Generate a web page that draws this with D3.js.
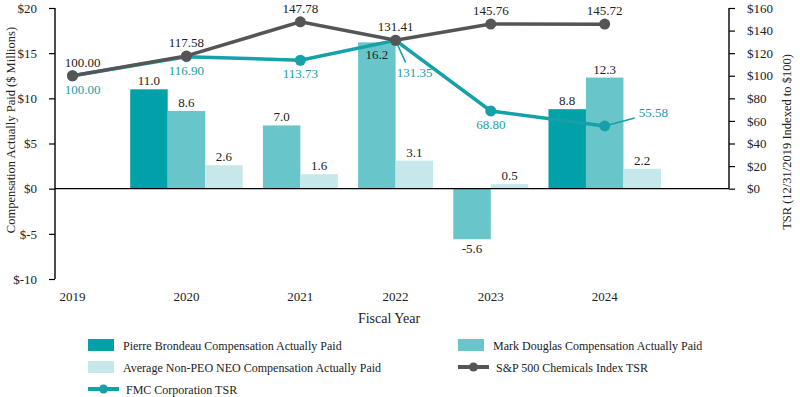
<!DOCTYPE html>
<html>
<head>
<meta charset="utf-8">
<script src="https://cdn.jsdelivr.net/npm/d3@7"></script>
<style>
  body { margin: 0; background: #fff; }
  svg { display: block; font-family: "Liberation Serif", "DejaVu Serif", serif; }
</style>
</head>
<body>
<div id="chart"></div>
<script>
// values
const years = ['2019', '2020', '2021', '2022', '2023', '2024']
const pierreCAP = [null, 11.0, null, null, null, 8.8]
const douglasCAP = [null, 8.6, 7.0, 16.2, -5.6, 12.3]
const neoAvgCAP = [null, 2.6, 1.6, 3.1, 0.5, 2.2]
const fmcTSR = [100.00, 116.90, 113.73, 131.35, 68.80, 55.58]
const spTSR = [100.00, 117.58, 147.78, 131.41, 145.76, 145.72]
const capTicks = [-10, -5, 0, 5, 10, 15, 20]
const tsrTicks = [0, 20, 40, 60, 80, 100, 120, 140, 160]

const barSeries = [
  {name: 'Pierre Brondeau Compensation Actually Paid', values: pierreCAP, color: '#00a1a9'},
  {name: 'Mark Douglas Compensation Actually Paid', values: douglasCAP, color: '#68c5c9'},
  {name: 'Average Non-PEO NEO Compensation Actually Paid', values: neoAvgCAP, color: '#c6e8ea'}
]
const spSeries = {name: 'S&P 500 Chemicals Index TSR', values: spTSR, color: '#555555'}
const fmcSeries = {name: 'FMC Corporation TSR', values: fmcTSR, color: '#16a0a8'}

const W = 800, H = 397
const svg = d3.select('#chart').append('svg')
    .attr('width', W)
    .attr('height', H)

// each year takes as many bar slots as it has bars (at least two), plus a gap
const gap = 0.54
const groups = years.map((y, i) => ({
  year: y,
  bars: barSeries.filter(s => s.values[i] != null).map(s => ({s, v: s.values[i]}))
}))
let cursor = 0
groups.forEach((g, i) => {
  const w = Math.max(2, g.bars.length)
  if (i > 0) cursor += gap
  g.center = cursor + w / 2
  cursor += w
})

const x = d3.scaleLinear()
    .domain([groups[0].center, groups[groups.length - 1].center])
    .range([72.5, 604.7])
const unit = x(1) - x(0)

const yL = d3.scaleLinear().domain([-10, 20]).range([279, 8])
const yR = d3.scaleLinear().domain([-80, 160]).range([279, 8])

const left = 55, right = 729

// left axis
const gL = svg.append('g')
    .attr('transform', `translate(${left},0)`)
    .call(d3.axisLeft(yL).tickValues(capTicks).tickSize(6).tickPadding(12)
      .tickFormat(d => '$' + d))
gL.select('.domain').attr('stroke', '#000').attr('stroke-width', 1.4)
  .attr('d', `M0,${yL(-10)}V${yL(20)}`)

// right axis
const gR = svg.append('g')
    .attr('transform', `translate(${right},0)`)
    .call(d3.axisRight(yR).tickValues(tsrTicks).tickSize(6).tickPadding(12)
      .tickFormat(d => '$' + d))
gR.select('.domain').attr('stroke', '#000').attr('stroke-width', 1.4)
  .attr('d', `M0,${yR(0)}V${yR(160)}`)

svg.selectAll('.tick text')
    .attr('font-size', 13)
    .attr('fill', '#222')
    .attr('font-family', '"Liberation Serif", serif')
svg.selectAll('.tick line').attr('stroke', '#000').attr('stroke-width', 1.2)

// bars
groups.forEach(g => {
  const n = g.bars.length
  g.bars.forEach((b, j) => {
    const x0 = x(g.center - n / 2 + j)
    const top = yL(Math.max(0, b.v)), bot = yL(Math.min(0, b.v))
    svg.append('rect')
        .attr('x', x0)
        .attr('y', top)
        .attr('width', unit)
        .attr('height', bot - top)
        .attr('fill', b.s.color)
    let ly
    if (b.v < 0) ly = bot + 14
    else if (b.v > 15) ly = top + 17
    else ly = top - 4
    svg.append('text')
        .attr('x', x0 + unit / 2)
        .attr('y', ly)
        .attr('text-anchor', 'middle')
        .attr('font-size', 13)
        .attr('fill', '#222')
        .text(b.v.toFixed(1))
  })
})

// zero line
svg.append('line')
    .attr('x1', left).attr('x2', right)
    .attr('y1', yL(0)).attr('y2', yL(0))
    .attr('stroke', '#000').attr('stroke-width', 1.4)

const line = d3.line()
    .x((d, i) => x(groups[i].center))
    .y(d => yR(d))

// keep the first labels clear of the left axis
const labelX = i => x(groups[i].center) + (i === 0 ? 10 : 0)

// FMC label placement; two labels are pushed aside with a leader line
const fmcLabelPos = fmcTSR.map((v, i) => {
  const px = x(groups[i].center), py = yR(v)
  if (i === 3) return {x: px + 19, y: py + 37, anchor: 'middle', lead: [px + 10, py + 22]}
  if (i === 5) return {x: px + 34, y: py - 9, anchor: 'start', lead: [px + 30, py - 8]}
  return {x: labelX(i), y: py + 18, anchor: 'middle'}
})

// FMC first, S&P drawn over it
function drawLine (s) {
  svg.append('path')
      .datum(s.values)
      .attr('d', line)
      .attr('fill', 'none')
      .attr('stroke', s.color)
      .attr('stroke-width', 3.5)
  svg.selectAll(null)
      .data(s.values)
      .enter().append('circle')
      .attr('cx', (d, i) => x(groups[i].center))
      .attr('cy', d => yR(d))
      .attr('r', 5.5)
      .attr('fill', s.color)
}

fmcLabelPos.forEach((p, i) => {
  if (!p.lead) return
  svg.append('line')
      .attr('x1', x(groups[i].center)).attr('y1', yR(fmcTSR[i]))
      .attr('x2', p.lead[0]).attr('y2', p.lead[1])
      .attr('stroke', fmcSeries.color).attr('stroke-width', 1.5)
})
drawLine(fmcSeries)
drawLine(spSeries)

svg.selectAll(null)
    .data(spTSR)
    .enter().append('text')
    .attr('x', (d, i) => labelX(i))
    .attr('y', d => yR(d) - 9)
    .attr('text-anchor', 'middle')
    .attr('font-size', 13)
    .attr('fill', '#222')
    .text(d => d.toFixed(2))

svg.selectAll(null)
    .data(fmcTSR)
    .enter().append('text')
    .attr('x', (d, i) => fmcLabelPos[i].x)
    .attr('y', (d, i) => fmcLabelPos[i].y)
    .attr('text-anchor', (d, i) => fmcLabelPos[i].anchor)
    .attr('font-size', 13)
    .attr('fill', '#1a9ca5')
    .text(d => d.toFixed(2))

// year labels
svg.selectAll(null)
    .data(groups)
    .enter().append('text')
    .attr('x', d => x(d.center))
    .attr('y', 301)
    .attr('text-anchor', 'middle')
    .attr('font-size', 13)
    .attr('fill', '#222')
    .text(d => d.year)

// axis titles
svg.append('text')
    .attr('x', 389).attr('y', 323)
    .attr('text-anchor', 'middle')
    .attr('font-size', 14)
    .attr('fill', '#222')
    .text('Fiscal Year')

svg.append('text')
    .attr('transform', 'translate(15,130) rotate(-90)')
    .attr('text-anchor', 'middle')
    .attr('font-size', 12.5)
    .attr('fill', '#222')
    .text('Compensation Actually Paid ($ Millions)')

svg.append('text')
    .attr('transform', 'translate(791,142) rotate(-90)')
    .attr('text-anchor', 'middle')
    .attr('font-size', 12.5)
    .attr('fill', '#222')
    .text('TSR (12/31/2019 Indexed to $100)')

// legend
const legendItems = [
  {type: 'bar', s: barSeries[0], x: 88, y: 345},
  {type: 'bar', s: barSeries[1], x: 458, y: 345},
  {type: 'bar', s: barSeries[2], x: 88, y: 367},
  {type: 'line', s: spSeries, x: 458, y: 367},
  {type: 'line', s: fmcSeries, x: 88, y: 389}
]
legendItems.forEach(it => {
  const g = svg.append('g').attr('transform', `translate(${it.x},${it.y})`)
  if (it.type === 'bar') {
    g.append('rect').attr('x', 0).attr('y', -6).attr('width', 26).attr('height', 12)
        .attr('fill', it.s.color)
  } else {
    g.append('line').attr('x1', 0).attr('x2', 31).attr('y1', 0).attr('y2', 0)
        .attr('stroke', it.s.color).attr('stroke-width', 4)
    g.append('circle').attr('cx', 15.5).attr('cy', 0).attr('r', 4.5).attr('fill', it.s.color)
  }
  g.append('text')
      .attr('x', it.type === 'bar' ? 35 : 38)
      .attr('y', 4.5)
      .attr('font-size', 12)
      .attr('fill', '#222')
      .text(it.s.name)
})
</script>
</body>
</html>
